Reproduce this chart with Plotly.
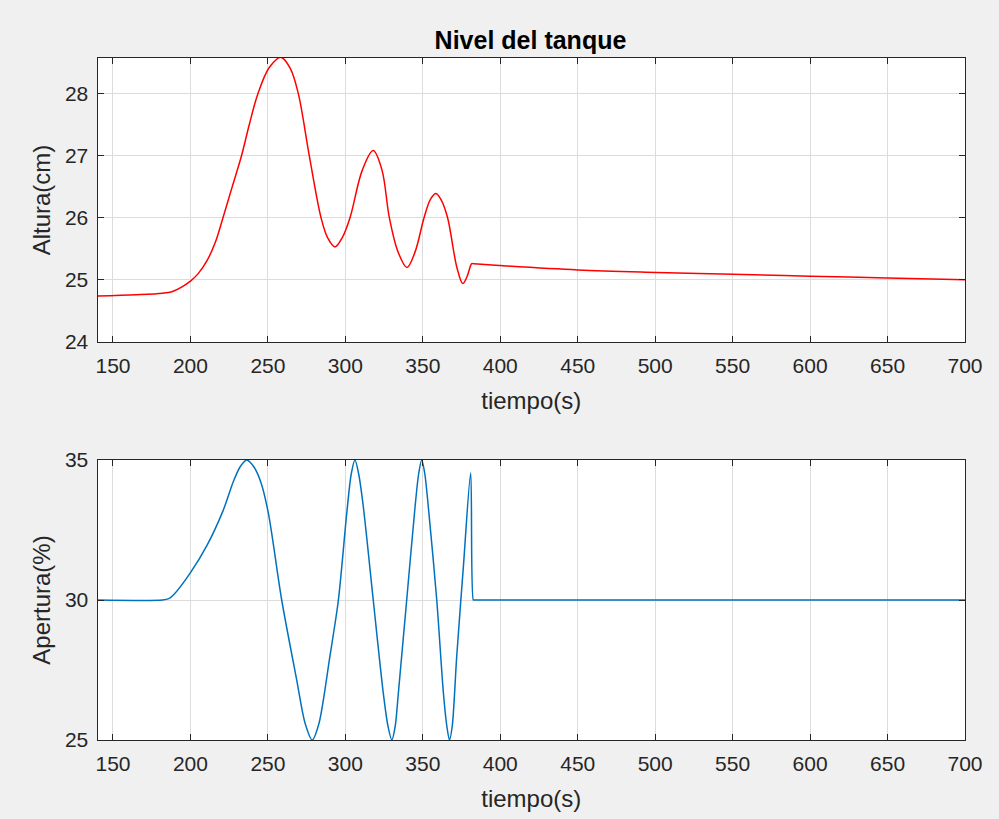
import plotly.graph_objects as go

# Nivel del tanque: tiempo (s) y altura (cm)
t_nivel = [140, 165, 182, 188, 194, 200, 205, 210.5, 216, 221, 227, 233, 238, 243.6, 251,
           258.5, 264.5, 269.6, 276.7, 284.3, 288.5, 293.3, 298, 303, 311, 318, 323.6, 328.4,
           334, 339.8, 345, 350.8, 355, 358.5, 362, 366, 372, 375.8, 378.5, 381.6, 383, 400,
           450, 501, 550, 600, 650, 700]
altura = [24.74, 24.76, 24.785, 24.81, 24.88, 24.98, 25.1, 25.3, 25.6, 26.0, 26.5, 27.0, 27.5, 28.0, 28.42,
          28.58, 28.4, 28.0, 27.0, 26.0, 25.68, 25.53, 25.68, 26.0, 26.77, 27.08, 26.77, 26.0,
          25.45, 25.2, 25.45, 26.0, 26.3, 26.39, 26.28, 26.0, 25.2, 24.94, 25.05, 25.26, 25.258, 25.23,
          25.16, 25.12, 25.09, 25.06, 25.03, 25.0]

# Apertura de la válvula: tiempo (s) y apertura (%)
t_apertura = [140, 182, 186, 189, 199.7, 210.5, 221.2, 227.7, 232, 236.3, 241, 245.5, 250.3,
              258.9, 268.6, 274, 278.6, 283, 290, 295.5, 300.9, 303.8, 306.2, 308.6, 311.6,
              318, 324.5, 327.5, 330, 332.2, 334.2, 339.6, 345, 347.3, 349.3, 351.3, 353.6,
              359, 363.3, 365.5, 367.2, 369, 371.9, 376.2, 380.9, 382.6, 383.2, 400, 700]
apertura = [30, 30, 30.05, 30.18, 30.95, 31.93, 33.21, 34.23, 34.75, 35.0, 34.75, 34.2, 33.1,
            30.0, 27.14, 25.6, 25.0, 25.6, 27.98, 30.0, 33.1, 34.5, 35.0, 34.5, 33.33,
            30.0, 26.67, 25.5, 25.0, 25.5, 26.67, 30.0, 33.33, 34.5, 35.0, 34.5, 33.3,
            30.0, 26.67, 25.5, 25.0, 25.5, 28.0, 31.2, 34.54, 30.0, 30.0, 30.0, 30.0]

x_ticks = [150, 200, 250, 300, 350, 400, 450, 500, 550, 600, 650, 700]

AX = "#262626"
GRID = "#dcdcdc"
FONT = "Liberation Sans, Arial, Helvetica, sans-serif"
TICK_SIZE = 21
LABEL_SIZE = 24

fig = go.Figure()

fig.add_trace(go.Scatter(x=t_nivel, y=altura, mode="lines",
                         line=dict(color="#ff0000", width=1.5, shape="spline", smoothing=1.0),
                         xaxis="x", yaxis="y", showlegend=False))
fig.add_trace(go.Scatter(x=t_apertura, y=apertura, mode="lines",
                         line=dict(color="#0072bd", width=1.5, shape="spline", smoothing=0.8),
                         xaxis="x2", yaxis="y2", showlegend=False))

common_x = dict(range=[140, 700], tickvals=x_ticks, showgrid=True, gridcolor=GRID,
                gridwidth=1, zeroline=False, showline=True, linecolor=AX, linewidth=1,
                mirror="ticks", ticks="inside", ticklen=6, tickcolor=AX, automargin=False,
                tickfont=dict(family=FONT, size=TICK_SIZE, color=AX),
                ticklabelstandoff=5,
                title=dict(text="tiempo(s)", font=dict(family=FONT, size=LABEL_SIZE, color=AX),
                           standoff=15))
common_y = dict(showgrid=True, gridcolor=GRID, gridwidth=1, zeroline=False,
                showline=True, linecolor=AX, linewidth=1, mirror="ticks",
                ticks="inside", ticklen=6, tickcolor=AX, automargin=False,
                tickfont=dict(family=FONT, size=TICK_SIZE, color=AX), ticklabelstandoff=4)

fig.update_layout(
    width=999, height=819,
    margin=dict(l=0, r=0, t=0, b=0, autoexpand=False),
    paper_bgcolor="#f0f0f0",
    plot_bgcolor="#ffffff",
    font=dict(family=FONT, color=AX),
    title=dict(text="<b>Nivel del tanque</b>", x=0.531, xanchor="center",
               y=1 - 40 / 819, yanchor="middle", automargin=False,
               font=dict(family=FONT, size=25, color="#000000")),
    xaxis=dict(domain=[97.5 / 999, 965 / 999], anchor="y", **common_x),
    yaxis=dict(domain=[1 - 342 / 819, 1 - 58 / 819], anchor="x", range=[24, 28.57],
               tickvals=[24, 25, 26, 27, 28],
               title=dict(text="Altura(cm)", font=dict(family=FONT, size=LABEL_SIZE, color=AX),
                          standoff=7),
               **common_y),
    xaxis2=dict(domain=[97.5 / 999, 965 / 999], anchor="y2", **common_x),
    yaxis2=dict(domain=[1 - 740 / 819, 1 - 460 / 819], anchor="x2", range=[25, 35],
                tickvals=[25, 30, 35],
                title=dict(text="Apertura(%)", font=dict(family=FONT, size=LABEL_SIZE, color=AX),
                           standoff=7),
                **common_y),
)

fig.write_html("out.html")
